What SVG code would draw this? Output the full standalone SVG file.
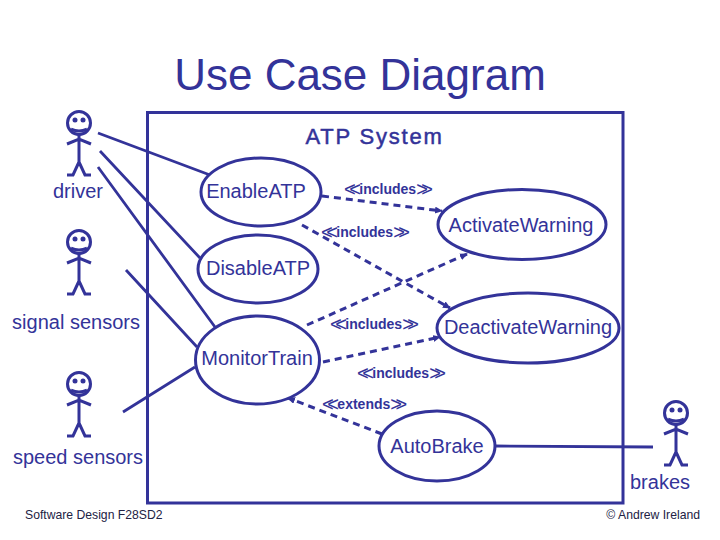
<svg xmlns="http://www.w3.org/2000/svg" xmlns:xlink="http://www.w3.org/1999/xlink" width="720" height="540" viewBox="0 0 720 540">
<style>
text{font-family:"Liberation Sans",Arial,sans-serif;fill:#333399}
.t{font-size:20px}
.c{text-anchor:middle}
.lab{font-size:14px;font-weight:bold}
.ch{font-size:20px;font-weight:normal;letter-spacing:-6.500px}
.foot{font-size:12.200px;fill:#222244}
.uc{fill:#fff;stroke:#333399;stroke-width:3}
.a{stroke:#333399;stroke-width:3;fill:none}
.d{stroke:#333399;stroke-width:3;fill:none;stroke-dasharray:7 5;marker-end:url(#ah)}
.s{stroke:#333399;stroke-width:2.800;fill:none}
</style>
<defs>
<marker id="ah" markerUnits="userSpaceOnUse" markerWidth="10" markerHeight="10" refX="7" refY="3.500" orient="auto"><path d="M0 0L8 3.500L0 7Z" fill="#333399"/></marker>
<g id="actor">
<circle cx="0" cy="0" r="11.500" class="a"/>
<circle cx="-4" cy="-3" r="2.500" fill="#333399"/><circle cx="4" cy="-3" r="2.500" fill="#333399"/>
<path d="M-8 6Q0 10 8 6" class="a"/>
<path d="M0 12V39M-12 21L0 16L12 21M0 39L-6 52H-12M0 39L6 52H12" class="a"/>
</g>
</defs>
<rect width="720" height="540" fill="#fff"/>
<text id="title" x="360" y="90" class="c" style="font-size:44px">Use Case Diagram</text>
<rect id="system" x="147.500" y="112.500" width="475.500" height="390.500" fill="none" stroke="#333399" stroke-width="3"/>
<text x="374.500" y="144" class="c" style="font-size:22px;letter-spacing:1.800px;stroke:#333399;stroke-width:.5">ATP System</text>
<g id="connectors">
<path class="s" d="M98 133L210 175M100 151L200 258M98 167L215 327M126 270L197 347M123 412L195 367M495 446L653 447"/>
<path class="d" d="M322 196L442 211"/>
<path class="d" d="M302 225L450 308"/>
<path class="d" d="M307 325L467 254"/>
<path class="d" d="M323 362L440 337"/>
<path class="d" d="M382 434L288 398"/>
</g>
<g id="actor-driver"><use xlink:href="#actor" href="#actor" x="79" y="123"/><text x="78" y="198" class="t c">driver</text></g>
<g id="actor-signal"><use xlink:href="#actor" href="#actor" x="79" y="242"/><text x="76" y="329" class="t c">signal sensors</text></g>
<g id="actor-speed"><use xlink:href="#actor" href="#actor" x="79" y="384"/><text x="78" y="464" class="t c">speed sensors</text></g>
<g id="actor-brakes"><use xlink:href="#actor" href="#actor" x="676" y="413"/><text x="660" y="489" class="t c">brakes</text></g>
<g id="enable"><ellipse class="uc" cx="261" cy="192" rx="60" ry="34"/><text x="256" y="198" class="t c">EnableATP</text></g>
<g id="disable"><ellipse class="uc" cx="258" cy="269" rx="60" ry="34"/><text x="258" y="275" class="t c">DisableATP</text></g>
<g id="monitor"><ellipse class="uc" cx="257.500" cy="360" rx="62" ry="44"/><text x="257" y="365" class="t c">MonitorTrain</text></g>
<g id="activate"><ellipse class="uc" cx="522" cy="224.500" rx="84" ry="35"/><text x="521" y="232" class="t c">ActivateWarning</text></g>
<g id="deactivate"><ellipse class="uc" cx="528" cy="328" rx="91" ry="35"/><text x="528" y="334" class="t c">DeactivateWarning</text></g>
<g id="autobrake"><ellipse class="uc" cx="437" cy="446" rx="58" ry="35"/><text x="437" y="453" class="t c">AutoBrake</text></g>
<g id="labels">
<text x="344" y="194" class="lab"><tspan class="ch" dy="2">&lt;&lt;</tspan><tspan dx="5" dy="-2">includes</tspan><tspan class="ch" dy="2">&gt;&gt;</tspan></text>
<text x="321" y="237" class="lab"><tspan class="ch" dy="2">&lt;&lt;</tspan><tspan dx="5" dy="-2">includes</tspan><tspan class="ch" dy="2">&gt;&gt;</tspan></text>
<text x="330" y="329" class="lab"><tspan class="ch" dy="2">&lt;&lt;</tspan><tspan dx="5" dy="-2">includes</tspan><tspan class="ch" dy="2">&gt;&gt;</tspan></text>
<text x="357" y="378" class="lab"><tspan class="ch" dy="2">&lt;&lt;</tspan><tspan dx="5" dy="-2">includes</tspan><tspan class="ch" dy="2">&gt;&gt;</tspan></text>
<text x="322" y="409" class="lab"><tspan class="ch" dy="2">&lt;&lt;</tspan><tspan dx="5" dy="-2">extends</tspan><tspan class="ch" dy="2">&gt;&gt;</tspan></text>
</g>
<text x="25" y="519" class="foot">Software Design F28SD2</text>
<text x="700" y="519" class="foot" text-anchor="end">© Andrew Ireland</text>
</svg>
